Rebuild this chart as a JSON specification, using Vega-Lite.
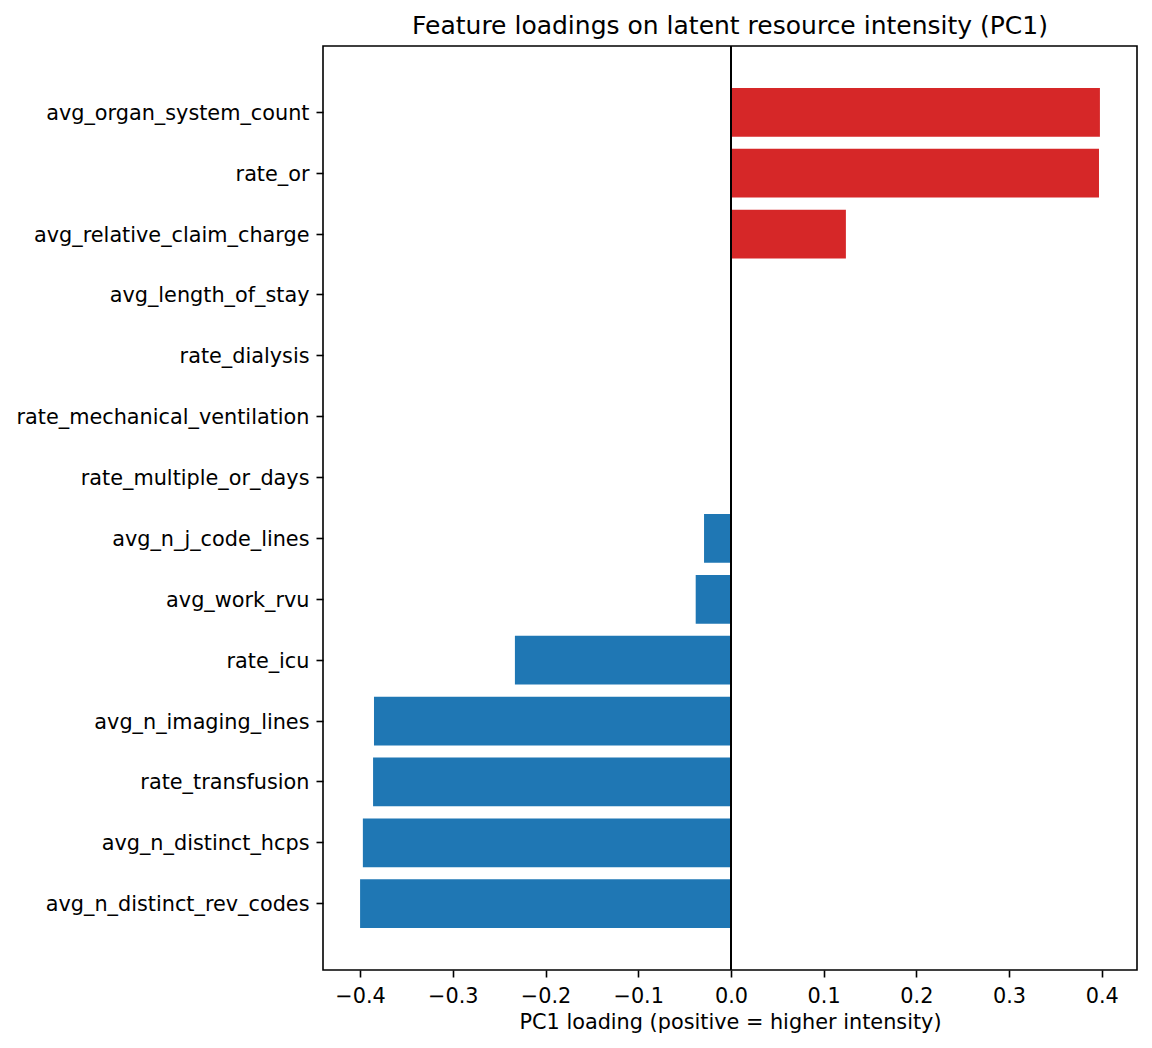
{
  "$schema": "https://vega.github.io/schema/vega-lite/v6.json",
  "autosize": {"type": "none"},
  "padding": {"left": 323, "top": 46, "right": 15, "bottom": 78},
  "width": 814,
  "height": 924,
  "background": "white",
  "title": {
    "text": "Feature loadings on latent resource intensity (PC1)",
    "fontSize": 25,
    "fontWeight": "normal",
    "font": "DejaVu Sans",
    "color": "black",
    "anchor": "middle",
    "offset": 6
  },
  "config": {
    "view": {"stroke": "black", "strokeWidth": 1.6},
    "axis": {
      "labelFont": "DejaVu Sans",
      "titleFont": "DejaVu Sans",
      "labelFontSize": 20.8,
      "titleFontSize": 20.8,
      "titleFontWeight": "normal",
      "labelColor": "black",
      "titleColor": "black",
      "tickColor": "black",
      "tickWidth": 1.6,
      "tickSize": 7,
      "labelPadding": 7,
      "domain": false,
      "grid": false
    }
  },
  "data": {
    "values": [
      {"feature": "avg_organ_system_count", "loading": 0.398},
      {"feature": "rate_or", "loading": 0.397},
      {"feature": "avg_relative_claim_charge", "loading": 0.124},
      {"feature": "avg_length_of_stay", "loading": 0.0},
      {"feature": "rate_dialysis", "loading": 0.0},
      {"feature": "rate_mechanical_ventilation", "loading": 0.0},
      {"feature": "rate_multiple_or_days", "loading": 0.0},
      {"feature": "avg_n_j_code_lines", "loading": -0.029},
      {"feature": "avg_work_rvu", "loading": -0.038},
      {"feature": "rate_icu", "loading": -0.233},
      {"feature": "avg_n_imaging_lines", "loading": -0.385},
      {"feature": "rate_transfusion", "loading": -0.386},
      {"feature": "avg_n_distinct_hcps", "loading": -0.397},
      {"feature": "avg_n_distinct_rev_codes", "loading": -0.400}
    ]
  },
  "layer": [
    {
      "mark": {"type": "bar"},
      "encoding": {
        "y": {
          "field": "feature",
          "type": "nominal",
          "sort": null,
          "title": null,
          "scale": {"paddingInner": 0.2, "paddingOuter": 0.69},
          "axis": {"labelLimit": 400, "labelBaseline": "alphabetic", "labelOffset": 7.5}
        },
        "x": {
          "field": "loading",
          "type": "quantitative",
          "title": "PC1 loading (positive = higher intensity)",
          "scale": {"domain": [-0.44, 0.438], "nice": false, "zero": false},
          "axis": {
            "values": [-0.4, -0.3, -0.2, -0.1, 0, 0.1, 0.2, 0.3, 0.4],
            "format": ".1f",
            "labelBaseline": "alphabetic",
            "labelPadding": 25,
            "titleBaseline": "alphabetic",
            "titleY": 58
          }
        },
        "color": {
          "condition": {"test": "datum.loading > 0", "value": "#d62728"},
          "value": "#1f77b4"
        }
      }
    },
    {
      "mark": {"type": "rule", "color": "black", "strokeWidth": 1.6},
      "encoding": {"x": {"datum": 0, "type": "quantitative"}}
    }
  ]
}
